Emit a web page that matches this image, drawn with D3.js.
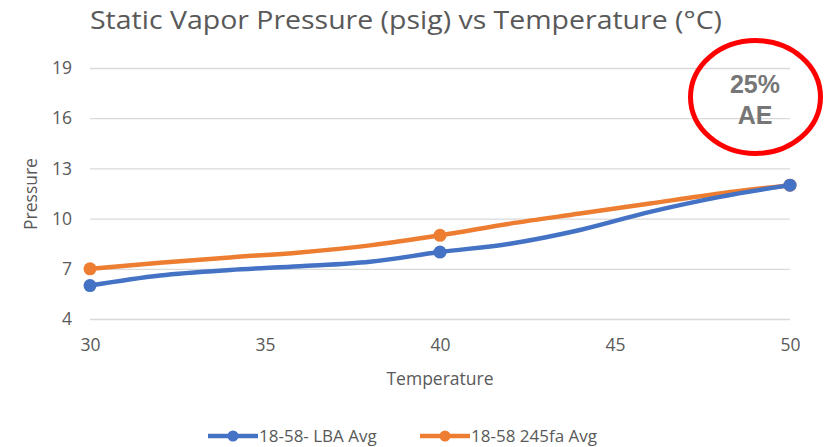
<!DOCTYPE html>
<html><head><meta charset="utf-8">
<script src="https://cdn.jsdelivr.net/npm/d3@7"></script>
<style>body{margin:0;background:#fff;} svg{display:block;}</style>
</head><body>
<svg id="c" width="825" height="447"></svg>
<script>
const temperatures = [30, 32, 34, 36, 38, 40, 42, 44, 46, 48, 50];
const lbaAvg = [6.0, 6.6, 6.93, 7.15, 7.42, 8.0, 8.5, 9.32, 10.4, 11.3, 12.0];
const hfaAvg = [7.0, 7.36, 7.68, 7.98, 8.4, 9.0, 9.7, 10.3, 10.9, 11.5, 12.0];
const markerTemps = [30, 40, 50];
const seriesNames = ["18-58- LBA Avg", "18-58 245fa Avg"];
const seriesColors = ["#4472C4", "#ED7D31"];
const xTicks = [30, 35, 40, 45, 50];
const yTicks = [4, 7, 10, 13, 16, 19];

const svg = d3.select("#c");
const font = "'Open Sans', sans-serif";
const x = d3.scaleLinear().domain([30, 50]).range([90, 790]);
const y = d3.scaleLinear().domain([4, 19]).range([319, 68]);

svg.append("text").attr("x", 90).attr("y", 29)
  .attr("font-family", font).attr("font-size", 26).attr("fill", "#595959")
  .attr("textLength", 632).attr("lengthAdjust", "spacingAndGlyphs")
  .text("Static Vapor Pressure (psig) vs Temperature (\u00B0C)");

// grid
const yAxis = d3.axisLeft(y).tickValues(yTicks).tickSize(-700).tickPadding(18);
const gy = svg.append("g").attr("transform", "translate(90,0)").call(yAxis);
gy.select(".domain").remove();
gy.selectAll("line").attr("stroke", "#d9d9d9").attr("stroke-width", 1.3);
gy.selectAll("text").attr("font-family", font).attr("font-size", 17.5).attr("fill", "#595959");

const xAxis = d3.axisBottom(x).tickValues(xTicks).tickSize(0).tickPadding(20);
const gx = svg.append("g").attr("transform", "translate(0,319)").call(xAxis);
gx.select(".domain").remove();
gx.selectAll("text").attr("font-family", font).attr("font-size", 17.5).attr("fill", "#595959");

svg.append("text").attr("x", 440).attr("y", 385).attr("text-anchor", "middle")
  .attr("font-family", font).attr("font-size", 17.5).attr("fill", "#595959").text("Temperature");
svg.append("text").attr("transform", "translate(37,194) rotate(-90)").attr("text-anchor", "middle")
  .attr("font-family", font).attr("font-size", 17.5).attr("fill", "#595959").text("Pressure");

const series = [lbaAvg, hfaAvg];
const line = d3.line().x((d, i) => x(temperatures[i])).y(d => y(d)).curve(d3.curveMonotoneX);
[1, 0].forEach(k => {
  const g = svg.append("g");
  g.append("path").attr("d", line(series[k])).attr("fill", "none")
    .attr("stroke", seriesColors[k]).attr("stroke-width", 4.5).attr("stroke-linecap", "round")
    .attr("stroke-linejoin", "round");
  const pts = temperatures.map((t, i) => ({t, v: series[k][i]})).filter(p => markerTemps.includes(p.t));
  g.selectAll("circle").data(pts).join("circle")
    .attr("cx", d => x(d.t)).attr("cy", d => y(d.v)).attr("r", 6.5)
    .attr("fill", seriesColors[k]);
});

// legend
const legX = [208, 420];
seriesNames.forEach((n, k) => {
  const g = svg.append("g").attr("transform", `translate(${legX[k]},436)`);
  g.append("line").attr("x1", 0).attr("x2", 50).attr("stroke", seriesColors[k]).attr("stroke-width", 4.5);
  g.append("circle").attr("cx", 25).attr("r", 5.5).attr("fill", seriesColors[k]);
  g.append("text").attr("x", 51).attr("y", 5.5).attr("font-family", font).attr("font-size", 17)
    .attr("fill", "#595959").text(n);
});

// annotation
svg.append("ellipse").attr("cx", 755.5).attr("cy", 97).attr("rx", 65).attr("ry", 56.5)
  .attr("fill", "none").attr("stroke", "#FF0000").attr("stroke-width", 5);
svg.append("text").attr("x", 755).attr("y", 93).attr("text-anchor", "middle")
  .attr("font-family", "'Liberation Sans', Arial, sans-serif").attr("font-weight", "bold")
  .attr("font-size", 25).attr("fill", "#767676").text("25%");
svg.append("text").attr("x", 755).attr("y", 124).attr("text-anchor", "middle")
  .attr("font-family", "'Liberation Sans', Arial, sans-serif").attr("font-weight", "bold")
  .attr("font-size", 25).attr("fill", "#767676").text("AE");
</script>
</body></html>
